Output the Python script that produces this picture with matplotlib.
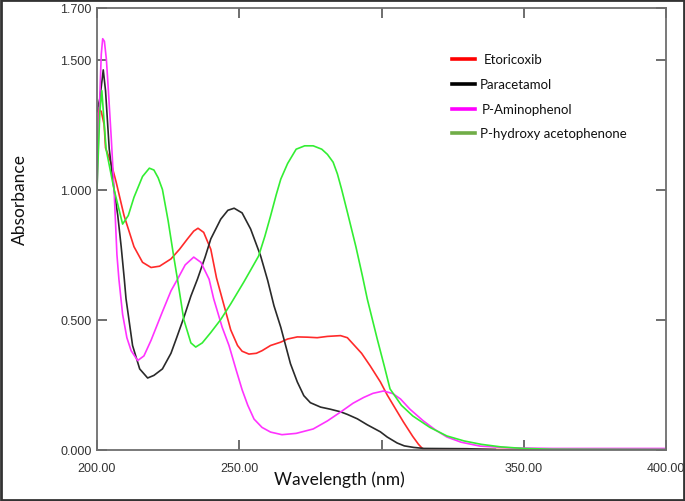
import matplotlib
matplotlib.use("Agg")
import matplotlib.pyplot as plt
from matplotlib.lines import Line2D
from matplotlib.patches import Rectangle

# ---- data ----
eto_nm = [200, 200.7, 201.5, 202.5, 203, 205, 206.7, 209.5, 213, 216, 219, 222, 226, 229, 231.8,
          234, 235.5, 237.5, 240, 242, 244, 245.3, 247, 249.4, 251, 253.4, 256, 258, 261, 264.6, 267,
          270.4, 274, 277.4, 281, 285.6, 288, 290, 293, 296, 299.6, 302, 305, 307.7, 311, 313,
          314.7, 330, 400]
eto_abs = [1.12, 1.31, 1.30, 1.25, 1.16, 1.10, 1.03, 0.90, 0.78, 0.72, 0.70, 0.705, 0.733, 0.77, 0.81,
           0.84, 0.851, 0.835, 0.77, 0.66, 0.58, 0.528, 0.46, 0.40, 0.378, 0.367, 0.37, 0.38, 0.40, 0.413, 0.425,
           0.433, 0.432, 0.43, 0.435, 0.438, 0.43, 0.406, 0.37, 0.322, 0.26, 0.21, 0.155, 0.106, 0.05, 0.02,
           0.0, 0.0, 0.0]

para_nm = [200, 201, 202.2, 203, 204.3, 206, 207.3, 208.5, 209.6, 210.2, 212.5, 215, 217.8, 220, 223,
           226, 228, 230.6, 233, 235.3, 238, 240, 243.5, 246, 248.2, 251, 254, 257.5, 260, 262.2,
           264.6, 266.3, 268, 270.4, 272.7, 275, 278.6, 282, 285.6, 288, 291.5, 295, 299.6, 302,
           305.5, 308, 311.3, 315, 330, 340]
para_abs = [1.30, 1.35, 1.46, 1.38, 1.156, 1.0, 0.90, 0.78, 0.655, 0.58, 0.40, 0.31, 0.275, 0.285, 0.31,
            0.37, 0.43, 0.51, 0.59, 0.655, 0.74, 0.81, 0.886, 0.92, 0.928, 0.91, 0.848, 0.745, 0.65, 0.553,
            0.47, 0.40, 0.33, 0.26, 0.207, 0.18, 0.163, 0.155, 0.145, 0.135, 0.118, 0.095, 0.068, 0.048,
            0.025, 0.014, 0.008, 0.004, 0.003, 0.0]

pap_nm = [200, 200.8, 201.5, 202, 202.6, 203.3, 204, 205, 206, 207, 207.7, 209, 210.5, 212, 214.3,
          216.5, 219, 223, 226, 228.3, 231, 234, 236.5, 239.4, 241, 244, 246.4, 248.8, 251, 253,
          255.2, 258, 261, 265, 270, 276, 281, 285.6, 290, 293.7, 297, 300.7, 304, 306.7, 310,
          314.7, 319, 323, 328, 334.7, 346, 360, 400]
pap_abs = [1.0, 1.3, 1.52, 1.58, 1.57, 1.5, 1.38, 1.2, 1.0, 0.75, 0.655, 0.52, 0.43, 0.38, 0.342,
           0.36, 0.42, 0.53, 0.61, 0.655, 0.71, 0.74, 0.72, 0.655, 0.58, 0.47, 0.40, 0.31, 0.23, 0.17,
           0.117, 0.085, 0.067, 0.057, 0.062, 0.079, 0.11, 0.144, 0.178, 0.20, 0.216, 0.225, 0.215, 0.194, 0.155,
           0.11, 0.075, 0.048, 0.028, 0.013, 0.006, 0.004, 0.004]

hap_nm = [200, 201, 201.7, 203.2, 206, 209, 211, 213, 216, 218.4, 220, 221.5, 223, 225, 227, 228.5,
          230.5, 233, 234.7, 237, 240, 243.5, 247, 251.6, 254, 256.8, 259, 261, 263, 264.6, 267,
          270, 273, 276, 279, 281, 283, 284.5, 286, 288, 291, 293.3, 295, 298.5, 301, 303, 307, 311, 317,
          323, 329, 335, 342, 350, 360, 400]
hap_abs = [1.0, 1.3, 1.38, 1.155, 1.0, 0.867, 0.90, 0.97, 1.05, 1.082, 1.075, 1.045, 1.0, 0.88, 0.74, 0.64,
           0.50, 0.41, 0.394, 0.41, 0.45, 0.50, 0.56, 0.644, 0.69, 0.744, 0.82, 0.898, 0.98, 1.04, 1.10,
           1.155, 1.168, 1.168, 1.155, 1.135, 1.105, 1.06, 1.0, 0.913, 0.78, 0.667, 0.579, 0.425, 0.32, 0.233, 0.17, 0.129, 0.085,
           0.052, 0.033, 0.02, 0.01, 0.004, 0.001, 0.0]

names = ["Etoricoxib", "Paracetamol", "P-Aminophenol", "P-hydroxy acetophenone"]
curve_colors = ["#ff2a2a", "#2a2a2a", "#ff33ff", "#33ee33"]
legend_colors = ["#ff0000", "#000000", "#ff00ff", "#70ad47"]

xticks = [200, 250, 300, 350, 400]
xticklabels = ["200.00", "250.00", "", "350.00", "400.00"]
yticks = [0.0, 0.5, 1.0, 1.5, 1.7]
yticklabels = ["0.000", "0.500", "1.000", "1.500", "1.700"]

W, H = 685, 502
fig = plt.figure(figsize=(W / 100, H / 100), dpi=100)
ax = fig.add_axes([97 / W, 1 - 450.5 / H, (666 - 97) / W, (450.5 - 8.5) / H])

series = [(eto_nm, eto_abs), (para_nm, para_abs), (pap_nm, pap_abs), (hap_nm, hap_abs)]
for (x, y), c in zip(series, curve_colors):
    ax.plot(x, y, color=c, lw=1.2, solid_joinstyle="round")

ax.set_xlim(200, 400)
ax.set_ylim(0, 1.7)
ax.set_xticks(xticks)
ax.set_xticklabels(xticklabels)
ax.set_yticks(yticks)
ax.set_yticklabels(yticklabels)
for sp in ax.spines.values():
    sp.set_color("#6e6e6e")
    sp.set_linewidth(1.3)
ax.tick_params(direction="in", length=7, width=1.2, color="#555555",
               top=True, right=True, labelsize=9, labelcolor="#333333")
ax.tick_params(axis="x", pad=9)
ax.tick_params(axis="y", pad=4)
for lab in ax.get_xticklabels() + ax.get_yticklabels():
    lab.set_family(["Liberation Sans", "DejaVu Sans"])

fig.text(339.5 / W, 1 - 480 / H, "Wavelength (nm)", ha="center", va="center",
         fontsize=12.5, family=["Lato", "DejaVu Sans"], color="#111111")
fig.text(20 / W, 1 - 200 / H, "Absorbance", ha="center", va="center", rotation=90,
         fontsize=12.5, family=["Lato", "DejaVu Sans"], color="#111111")

# legend (manual)
leg_y = [60, 85, 110, 134]
text_x = [484, 480, 481.5, 480]
for name, c, yy, tx in zip(names, legend_colors, leg_y, text_x):
    fig.lines.append(Line2D([452 / W, 475 / W], [1 - yy / H, 1 - yy / H], color=c, lw=2.6,
                            transform=fig.transFigure))
    fig.text(tx / W, 1 - yy / H, name, ha="left", va="center", fontsize=9.5,
             family=["Lato", "DejaVu Sans"], color="#111111")

# figure frame
fig.patches.append(Rectangle((0.0015, 0.002), 0.997, 0.996, transform=fig.transFigure,
                             fill=False, edgecolor="#333333", lw=2))

fig.savefig("out.png", dpi=100)
